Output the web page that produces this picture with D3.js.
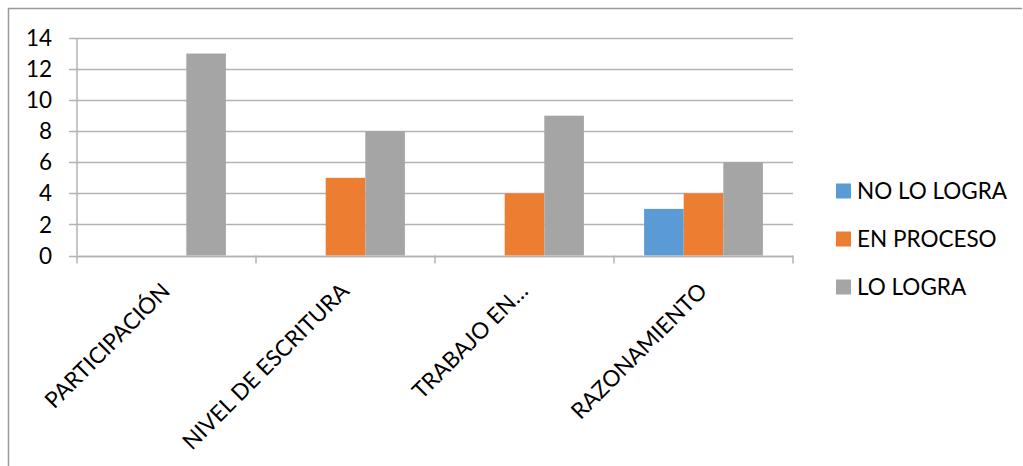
<!DOCTYPE html>
<html><head><meta charset="utf-8">
<script src="https://cdn.jsdelivr.net/npm/d3@7"></script>
<style>body{margin:0;background:#fff}svg{display:block}text{font-family:Lato,"Liberation Sans",sans-serif;fill:#000}</style>
</head><body>
<svg id="c" width="1023" height="466"></svg>
<script>
const categories = ["PARTICIPACIÓN", "NIVEL DE ESCRITURA", "TRABAJO EN…", "RAZONAMIENTO"];
const seriesNames = ["NO LO LOGRA", "EN PROCESO", "LO LOGRA"];
const noLoLogra = [0, 0, 0, 3];
const enProceso = [0, 5, 4, 4];
const loLogra = [13, 8, 9, 6];
const yTicks = [0, 2, 4, 6, 8, 10, 12, 14];
const colors = ["#5B9BD5", "#ED7D31", "#A5A5A5"];

(function () {
const values = [noLoLogra, enProceso, loLogra];
const svg = d3.select("#c");
const pL = 77, pR = 793, pT = 38, pB = 255.5;
const fs = 22.5;

svg.append("path").attr("d", "M8.5,466V8.5H1022").attr("fill", "none").attr("stroke", "#9a9a9a").attr("stroke-width", 1.5);

const x = d3.scaleBand().domain(categories).range([pL, pR]).padding(0);
const xi = d3.scaleBand().domain(seriesNames).range([0, x.bandwidth()]).paddingInner(0).paddingOuter(0.76);
const y = d3.scaleLinear().domain([0, 14]).range([pB, pT]);

const ga = svg.append("g");
ga.selectAll("line").data(yTicks).join("line")
  .attr("x1", 69).attr("x2", pR).attr("y1", d => Math.round(y(d)) + 0.5).attr("y2", d => Math.round(y(d)) + 0.5)
  .attr("stroke", "#b3b3b3").attr("stroke-width", 1.5);
ga.selectAll("text").data(yTicks).join("text")
  .attr("x", 52).attr("y", d => y(d)).attr("dy", "0.36em").attr("text-anchor", "end")
  .attr("font-size", fs).text(d => d);

const data = [];
categories.forEach((c, i) => seriesNames.forEach((s, j) => data.push({c, s, v: values[j][i], j})));
svg.append("g").selectAll("rect").data(data.filter(d => d.v > 0)).join("rect")
  .attr("x", d => x(d.c) + xi(d.s)).attr("width", xi.bandwidth())
  .attr("y", d => y(d.v)).attr("height", d => y(0) - y(d.v))
  .attr("fill", d => colors[d.j]);

svg.append("line").attr("x1", pL).attr("x2", pL).attr("y1", pT).attr("y2", pB)
  .attr("stroke", "#b3b3b3").attr("stroke-width", 1.5);
svg.append("line").attr("x1", pL).attr("x2", pR).attr("y1", Math.round(pB) + 0.5).attr("y2", Math.round(pB) + 0.5)
  .attr("stroke", "#b3b3b3").attr("stroke-width", 1.5);
const bounds = categories.map(c => x(c)).concat([pR]);
svg.append("g").selectAll("line").data(bounds).join("line")
  .attr("x1", d => d).attr("x2", d => d).attr("y1", pB).attr("y2", pB + 8)
  .attr("stroke", "#b3b3b3").attr("stroke-width", 1.5);

svg.append("g").selectAll("text").data(categories).join("text")
  .attr("transform", d => `translate(${x(d) + x.bandwidth() / 2 + 5},${pB + 37}) rotate(-45)`)
  .attr("text-anchor", "end").attr("font-size", fs).text(d => d);

const lg = svg.append("g").selectAll("g").data(seriesNames).join("g")
  .attr("transform", (d, i) => `translate(836,${191 + i * 48})`);
lg.append("rect").attr("x", 0).attr("y", -7.5).attr("width", 15).attr("height", 15).attr("fill", (d, i) => colors[i]);
lg.append("text").attr("x", 21).attr("y", 0).attr("dy", "0.36em").attr("font-size", fs).text(d => d);
})();
</script>
</body></html>
